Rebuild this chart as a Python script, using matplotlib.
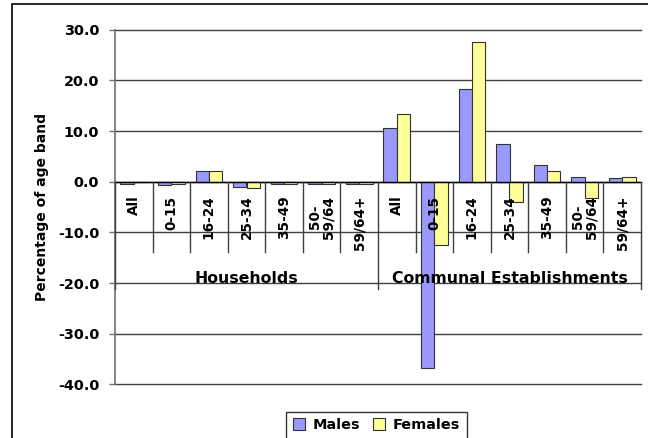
import matplotlib
matplotlib.use("Agg")
import matplotlib.pyplot as plt
import numpy as np
from matplotlib.patches import Rectangle, Patch

plt.rcParams['font.family'] = ['DejaVu Sans']
plt.rcParams['font.weight'] = 'bold'

groups = ["Households", "Communal Establishments"]
age_bands = ["All", "0-15", "16-24", "25-34", "35-49", "50-\n59/64", "59/64+"]
males = [-0.4, -0.6, 2.2, -1.1, -0.5, -0.5, -0.5,
         10.6, -36.8, 18.3, 7.4, 3.2, 1.0, 0.7]
females = [-0.1, -0.4, 2.2, -1.3, -0.5, -0.5, -0.5,
           13.3, -12.5, 27.5, -4.1, 2.2, -3.2, 0.9]
yticks = [-40, -30, -20, -10, 0, 10, 20, 30]

W, H = 648, 438
fig = plt.figure(figsize=(W / 100, H / 100), dpi=100)
ax = fig.add_axes([115 / W, 1 - 384.4 / H, (641 - 115) / W, (384.4 - 29.7) / H])

n = len(males)
x = np.arange(n)
bw = 0.355
ax.bar(x - bw / 2, males, bw, color="#9999FF", edgecolor="#333333", linewidth=0.8, zorder=3, label="Males")
ax.bar(x + bw / 2, females, bw, color="#FFFF99", edgecolor="#333333", linewidth=0.8, zorder=3, label="Females")

ax.set_xlim(-0.5, n - 0.5)
ax.set_ylim(-40, 30)
ax.set_yticks(yticks)
ax.set_yticklabels([f"{v:.1f}" for v in yticks], fontsize=10.4, fontweight="bold")
ax.yaxis.grid(True, color="#404040", linewidth=1, zorder=0)
ax.set_axisbelow(True)
for gl in ax.get_ygridlines():
    gl.set_clip_on(False)
ax.set_xticks([])
for s in ["top", "right", "bottom"]:
    ax.spines[s].set_visible(False)
ax.spines["left"].set_color("#707070")
ax.spines["left"].set_linewidth(1.2)
ax.tick_params(axis="y", length=4.3, width=1, color="#707070", pad=7.0)

ax.axhline(0, color="black", linewidth=1, zorder=4)
ax.set_ylabel("Percentage of age band", fontsize=10, fontweight="bold")
ax.yaxis.set_label_coords((49 - 115) / (641 - 115), 0.5)

# category tick labels and separators
nb = len(age_bands)
for i in range(n):
    lbl = age_bands[i % nb]
    ax.annotate(lbl, xy=(i, 0), xytext=(0, -14), textcoords="offset pixels",
                rotation=90, ha="center", va="top", multialignment="center",
                fontsize=9.8, fontweight="bold", zorder=6, linespacing=0.95)
for b in range(n + 1):
    xb = b - 0.5
    bottom = -21.2 if b % nb == 0 else -13.9
    ax.plot([xb, xb], [0, bottom], color="#404040", linewidth=1, zorder=5, clip_on=False)

for g, name in enumerate(groups):
    cx = g * nb + (nb - 1) / 2
    ax.annotate(name, xy=(cx, 0), xytext=(0, -97), textcoords="offset pixels",
                ha="center", va="center", fontsize=11.3, fontweight="bold", zorder=6)

handles = [Patch(facecolor="#9999FF", edgecolor="#333333", linewidth=0.8),
           Patch(facecolor="#FFFF99", edgecolor="#333333", linewidth=0.8)]
leg = fig.legend(handles, ["Males", "Females"], loc="upper center",
                 bbox_to_anchor=(376.5 / W, 1 - 411.5 / H), ncol=2, frameon=True,
                 fancybox=False, edgecolor="black", fontsize=10.4,
                 handlelength=0.85, handleheight=0.85, handletextpad=0.55,
                 columnspacing=0.85, borderpad=0.45, borderaxespad=0)
leg.get_frame().set_linewidth(1)
for t in leg.get_texts():
    t.set_fontweight("bold")

fig.patches.append(Rectangle((12 / W, -0.1), 1.2, 1 - 4 / H + 0.1, transform=fig.transFigure,
                             fill=False, edgecolor="black", linewidth=1.2))

fig.savefig("out.png", dpi=100)
